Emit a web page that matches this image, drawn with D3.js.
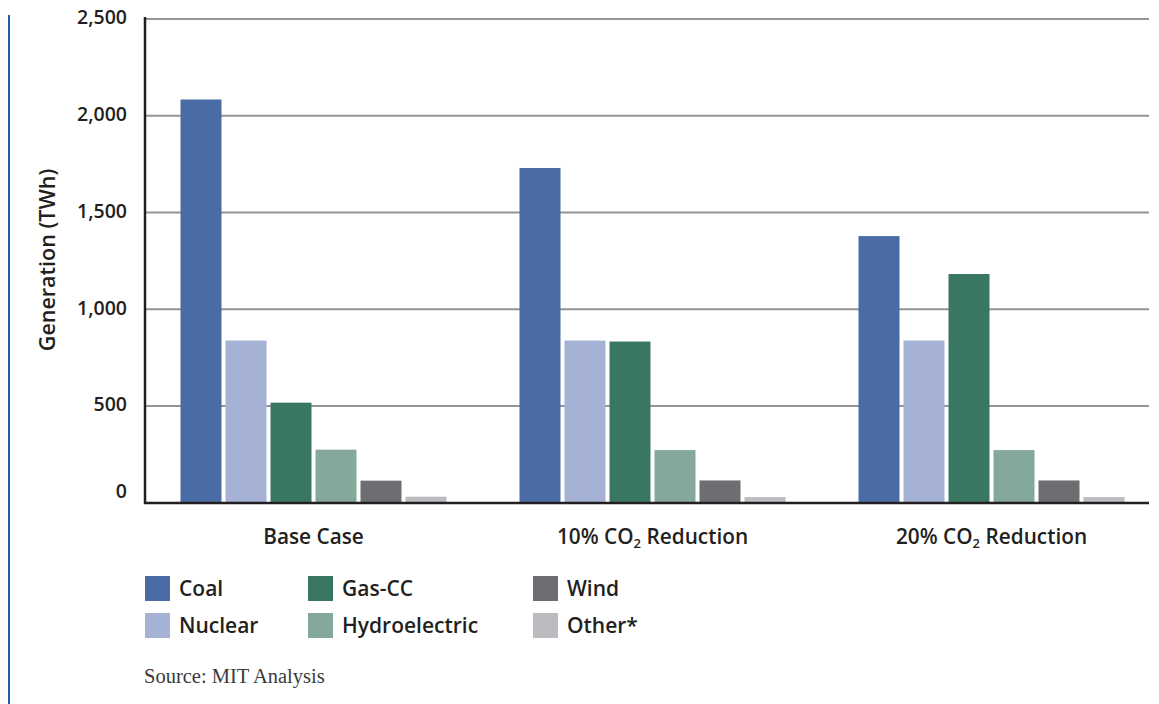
<!DOCTYPE html>
<html><head><meta charset="utf-8">
<script src="https://cdn.jsdelivr.net/npm/d3@7"></script>
<style>body{margin:0;background:#fff}svg{display:block}</style>
</head><body>
<script>
const categories = ["Base Case", "10% CO2 Reduction", "20% CO2 Reduction"];
const series = ["Coal", "Nuclear", "Gas-CC", "Hydroelectric", "Wind", "Other*"];
const colors = ["#4a6ca6", "#a5b2d5", "#3a7763", "#84a99a", "#6d6e71", "#bbbcbf"];
const coal = [2084, 1730, 1378];
const nuclear = [838, 838, 838];
const gasCC = [517, 833, 1182];
const hydro = [274, 272, 272];
const wind = [114, 115, 115];
const other = [31, 29, 29];
const yTicks = [0, 500, 1000, 1500, 2000, 2500];
const seriesValues = [coal, nuclear, gasCC, hydro, wind, other];

const W = 1159, H = 704;
const svg = d3.select("body").append("svg").attr("width", W).attr("height", H);
const ink = "#231f20";
const sans = "'Open Sans', sans-serif";

const y = d3.scaleLinear().domain([0, 2500]).range([502.7, 19]);
const x0 = d3.scaleBand().domain(categories).range([144, 1161]).padding(0);
const x1 = d3.scaleBand().domain(series).range([-133, 133]).paddingInner(4/45).paddingOuter(0);
const color = d3.scaleOrdinal().domain(series).range(colors);

// left decorative blue line
svg.append("line").attr("x1", 9).attr("x2", 9).attr("y1", 15).attr("y2", H)
  .attr("stroke", "#1f5ea8").attr("stroke-width", 2);

// gridlines
svg.append("g").selectAll("line").data(yTicks.filter(d => d > 0)).join("line")
  .attr("x1", 145).attr("x2", 1149)
  .attr("y1", d => y(d)).attr("y2", d => y(d))
  .attr("stroke", "#939598").attr("stroke-width", 2);

// bars
const rows = [];
categories.forEach((c, i) => series.forEach((s, j) => rows.push({c, s, v: seriesValues[j][i]})));
svg.append("g").selectAll("rect").data(rows).join("rect")
  .attr("x", d => x0(d.c) + x0.bandwidth()/2 + x1(d.s))
  .attr("width", x1.bandwidth())
  .attr("y", d => y(d.v))
  .attr("height", d => y(0) - y(d.v))
  .attr("fill", d => color(d.s));

// axes lines
svg.append("line").attr("x1", 145).attr("x2", 145).attr("y1", 17).attr("y2", 504)
  .attr("stroke", ink).attr("stroke-width", 2.5);
svg.append("line").attr("x1", 144).attr("x2", 1149).attr("y1", 503).attr("y2", 503)
  .attr("stroke", ink).attr("stroke-width", 2.5);

// y tick labels
svg.append("g").selectAll("text").data(yTicks).join("text")
  .attr("x", 127).attr("y", d => y(d) + (d === 0 ? -12 : -1.5))
  .attr("dy", "0.35em").attr("text-anchor", "end")
  .attr("font-family", sans).attr("font-weight", 600).attr("font-size", 19.5)
  .attr("fill", ink)
  .text(d => d3.format(",")(d));

// y title
svg.append("text").attr("transform", "translate(47,260) rotate(-90)")
  .attr("text-anchor", "middle").attr("dy", "0.35em")
  .attr("font-family", sans).attr("font-weight", 600).attr("font-size", 21.5)
  .attr("fill", ink).text("Generation (TWh)");

// category labels
const cl = svg.append("g").selectAll("text").data(categories).join("text")
  .attr("x", d => x0(d) + x0.bandwidth()/2).attr("y", 543.5)
  .attr("text-anchor", "middle")
  .attr("font-family", sans).attr("font-weight", 600).attr("font-size", 20.8)
  .attr("fill", ink);
cl.each(function(d) {
  const t = d3.select(this);
  const m = d.match(/^(.*CO)2(.*)$/);
  if (m) {
    t.append("tspan").text(m[1]);
    t.append("tspan").attr("font-size", 13).attr("dy", 4).text("2");
    t.append("tspan").attr("dy", -4).text(m[2]);
  } else t.text(d);
});

// legend
const legX = [145, 308, 533], legY = [576, 613];
const lg = svg.append("g").selectAll("g").data(series).join("g")
  .attr("transform", (d, i) => `translate(${legX[Math.floor(i/2)]},${legY[i%2]})`);
lg.append("rect").attr("width", 25).attr("height", 25).attr("fill", d => color(d));
lg.append("text").attr("x", 34).attr("y", 12.5).attr("dy", "0.35em")
  .attr("font-family", sans).attr("font-weight", 600).attr("font-size", 21)
  .attr("fill", ink).text(d => d);

// source
svg.append("text").attr("x", 144).attr("y", 676).attr("dy", "0.35em")
  .attr("font-family", "'Liberation Serif', serif").attr("font-size", 20.5)
  .attr("fill", "#3a3a3a").text("Source: MIT Analysis");
</script>
</body></html>
